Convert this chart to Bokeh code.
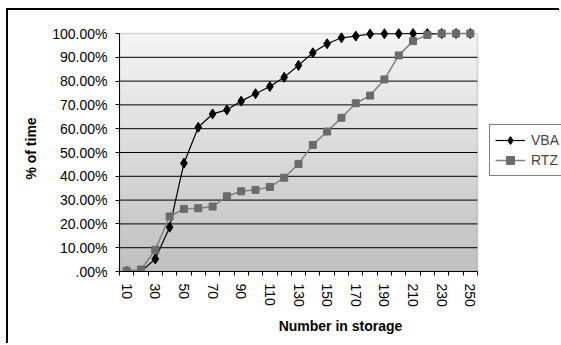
import numpy as np
from bokeh.plotting import figure
from bokeh.models import (Range1d, FixedTicker, BoxAnnotation, Legend, LegendItem)
from bokeh.embed import file_html
from bokeh.resources import INLINE

# ---- data ----
categories = ["10", "20", "30", "40", "50", "60", "70", "80", "90", "100",
              "110", "120", "130", "140", "150", "160", "170", "180", "190", "200",
              "210", "220", "230", "240", "250"]
x_tick_labels = ["10", "30", "50", "70", "90", "110", "130", "150", "170", "190",
                 "210", "230", "250"]
vba = [0.0, 0.0, 5.3, 18.6, 45.5, 60.6, 66.2, 67.9, 71.6, 74.7,
       77.7, 81.6, 86.6, 91.9, 95.7, 98.2, 98.9, 99.8, 99.9, 99.9,
       100.0, 100.0, 100.0, 100.0, 100.0]
rtz = [0.3, 0.8, 9.1, 23.1, 26.3, 26.6, 27.3, 31.6, 33.7, 34.3,
       35.5, 39.4, 45.2, 53.2, 58.8, 64.6, 70.7, 73.9, 80.7, 90.8,
       96.8, 99.4, 100.0, 100.0, 100.0]
y_ticks = [0, 10, 20, 30, 40, 50, 60, 70, 80, 90, 100]
y_tick_labels = [".00%", "10.00%", "20.00%", "30.00%", "40.00%", "50.00%",
                 "60.00%", "70.00%", "80.00%", "90.00%", "100.00%"]

FONT = "Liberation Sans"
n = len(categories)
xs = [i + 0.5 for i in range(n)]

W, H = 553, 335
FL, FR, FT, FB = 111, 553, 15, 261      # frame edges on the canvas
AREA_W, AREA_H = 358, 238               # plot-area size in px
x_end = n * (FR - FL) / AREA_W
y_end = 100 * (FB - FT) / AREA_H

p = figure(width=W, height=H, output_backend="svg", toolbar_location=None,
           x_range=Range1d(0, x_end), y_range=Range1d(0, y_end),
           min_border_left=FL, min_border_right=W - FR, min_border_top=FT,
           min_border_bottom=H - FB)
p.styles = {"margin-left": "6px", "margin-top": "8px",
            "border-left": "2px solid black", "border-top": "2px solid black"}
p.background_fill_color = "white"
p.border_fill_color = "white"
p.outline_line_color = None

# gradient plot-area background
N = 238
img = np.empty((N, 1), dtype=np.uint32)
view = img.view(dtype=np.uint8).reshape((N, 1, 4))
g = np.linspace(192, 245, N).astype(np.uint8)
view[:, 0, 0] = g
view[:, 0, 1] = g
view[:, 0, 2] = g
view[:, 0, 3] = 255
p.image_rgba(image=[img], x=0, y=0, dw=n, dh=100, level="image")

# plot-area frame
p.add_layout(BoxAnnotation(left=0, right=n, bottom=0, top=100, fill_alpha=0,
                           line_color="#808080", line_width=1.5, level="underlay"))

# horizontal gridlines (only across the plot area)
p.xgrid.visible = False
p.ygrid.visible = False
gy = y_ticks[1:-1]
p.segment(x0=[0] * len(gy), x1=[n] * len(gy), y0=gy, y1=gy,
          line_color="black", line_width=1)

# y axis
p.yaxis.bounds = (0, 100)
p.yaxis.ticker = FixedTicker(ticks=y_ticks)
p.yaxis.major_label_overrides = {t: l for t, l in zip(y_ticks, y_tick_labels)}
p.yaxis.minor_tick_line_color = None
p.yaxis.major_tick_in = 0
p.yaxis.major_tick_out = 4
p.yaxis.major_label_standoff = 8
p.yaxis.axis_label = "% of time"
p.yaxis.axis_label_standoff = 10

# x axis
p.xaxis.bounds = (0, n)
p.xaxis.ticker = FixedTicker(ticks=xs[::2], minor_ticks=list(range(n + 1)))
p.xaxis.major_label_overrides = {x: l for x, l in zip(xs[::2], x_tick_labels)}
p.xaxis.major_label_orientation = "vertical"
p.xaxis.major_tick_in = 0
p.xaxis.major_tick_out = 0
p.xaxis.minor_tick_in = 0
p.xaxis.minor_tick_out = 4
p.xaxis.minor_tick_line_color = "black"
p.xaxis.major_label_standoff = 8
p.xaxis.axis_label = "Number in storage"
p.xaxis.axis_label_standoff = 8

for ax in (p.xaxis[0], p.yaxis[0]):
    ax.axis_line_color = "black"
    ax.major_tick_line_color = "black"
    ax.major_label_text_font = FONT
    ax.major_label_text_font_size = "14px"
    ax.major_label_text_color = "black"
    ax.axis_label_text_font = FONT
    ax.axis_label_text_font_size = "14px"
    ax.axis_label_text_font_style = "bold"
    ax.axis_label_text_color = "black"

# series
v_line = p.line(xs, vba, line_color="black", line_width=1.2)
v_pts = p.scatter(xs, vba, marker="diamond", size=10, fill_color="black", line_color="black")
r_line = p.line(xs, rtz, line_color="#808080", line_width=1.5)
r_pts = p.scatter(xs, rtz, marker="square", size=7, fill_color="#6b6b6b", line_color="#6b6b6b")

legend = Legend(items=[LegendItem(label="VBA", renderers=[v_line, v_pts]),
                       LegendItem(label="RTZ", renderers=[r_line, r_pts])],
                location=(370, 95), orientation="vertical",
                label_text_font=FONT, label_text_font_size="14px",
                label_height=20, glyph_height=20, glyph_width=30,
                label_standoff=6, padding=5, spacing=0, margin=0,
                border_line_color="black", border_line_width=1,
                background_fill_color="white", background_fill_alpha=1)
p.add_layout(legend)

open("out.html", "w").write(file_html(p, INLINE))
